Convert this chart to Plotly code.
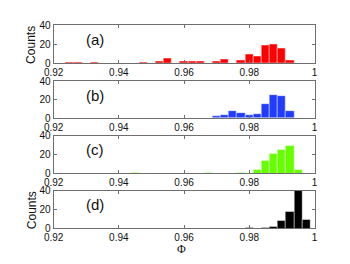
import plotly.graph_objects as go

# bin centres (Phi) and counts per panel
phi_a = [0.925, 0.9275, 0.9325, 0.9475, 0.9525, 0.955, 0.96, 0.9625, 0.965, 0.97,
         0.9725, 0.9775, 0.98, 0.9825, 0.985, 0.9875, 0.99, 0.9925]
cnt_a = [1, 1, 1, 1, 2, 5, 2, 2, 2, 2, 4, 3, 9, 7, 19, 20, 16, 3]

phi_b = [0.97, 0.9725, 0.975, 0.9775, 0.98, 0.9825, 0.985, 0.9875, 0.99, 0.9925]
cnt_b = [2, 3, 8, 6, 4, 5, 15, 25, 24, 8]

phi_c = [0.945, 0.9675, 0.9775, 0.9825, 0.985, 0.9875, 0.99, 0.9925, 0.995]
cnt_c = [1, 1, 1, 4, 13, 21, 25, 29, 4]

phi_d = [0.98, 0.985, 0.9875, 0.99, 0.9925, 0.995, 0.9975]
cnt_d = [1, 1, 2, 8, 18, 40, 9]

panel_labels = ["(a)", "(b)", "(c)", "(d)"]
colors = ["#ff0000", "#1f3cff", "#66ff00", "#000000"]
x_ticks = [0.92, 0.94, 0.96, 0.98, 1.0]
x_ticktext = ["0.92", "0.94", "0.96", "0.98", "1"]
y_ticks = [0, 20, 40]

W, H = 350, 264
OFF = 8  # page body margin offset
px_left, px_right = 45 - OFF, 316 - OFF
px_rows = [(20 - OFF, 59.7 - OFF), (78.3 - OFF, 117.3 - OFF),
           (135.7 - OFF, 175 - OFF), (193.3 - OFF, 232.7 - OFF)]

series = [(phi_a, cnt_a), (phi_b, cnt_b), (phi_c, cnt_c), (phi_d, cnt_d)]

fig = go.Figure()
axcol = "#6e6e6e"
tickfont = dict(family="Liberation Sans, Arial, sans-serif", size=10, color="#111")

for i, ((xs, ys), col) in enumerate(zip(series, colors)):
    n = "" if i == 0 else str(i + 1)
    fig.add_trace(go.Bar(
        x=xs, y=ys, width=0.0025,
        marker=dict(color=col, line=dict(color="rgba(255,255,255,0.55)", width=0.8)),
        xaxis="x" + n, yaxis="y" + n, showlegend=False,
    ))
    top, bot = px_rows[i]
    xd = [px_left / W, px_right / W]
    yd = [1 - bot / H, 1 - top / H]
    fig.update_layout(**{
        "xaxis" + n: dict(domain=xd, range=[0.92, 1.0], anchor="y" + n,
                          tickvals=x_ticks, ticktext=x_ticktext,
                          ticks="inside", ticklen=3, tickcolor=axcol,
                          showline=True, linecolor=axcol, linewidth=1, mirror="ticks",
                          showgrid=False, zeroline=False, tickfont=tickfont),
        "yaxis" + n: dict(domain=yd, range=[0, 40], anchor="x" + n,
                          tickvals=y_ticks, ticks="inside", ticklen=3, tickcolor=axcol,
                          showline=True, linecolor=axcol, linewidth=1, mirror="ticks",
                          showgrid=False, zeroline=False, tickfont=tickfont),
    })
    fig.add_annotation(x=0.9327, y=25, xref="x" + n, yref="y" + n,
                       xanchor="center", yanchor="middle",
                       text=panel_labels[i], showarrow=False,
                       font=dict(family="Liberation Sans, Arial, sans-serif", size=15, color="#111"))
    if i in (0, 3):
        fig.add_annotation(x=(22 - OFF) / W, y=1 - (top + bot) / 2 / H, xref="paper", yref="paper",
                           xanchor="center", yanchor="middle",
                           text="Counts", textangle=-90, showarrow=False,
                           font=dict(family="Liberation Sans, Arial, sans-serif", size=12, color="#111"))

fig.add_annotation(x=(178 - OFF) / W, y=1 - (254 - OFF) / H, xref="paper", yref="paper",
                   xanchor="center", yanchor="middle",
                   text="Φ", showarrow=False,
                   font=dict(family="Liberation Serif, Times New Roman, serif", size=12, color="#111"))

fig.update_layout(width=W, height=H, margin=dict(l=0, r=0, t=0, b=0),
                  paper_bgcolor="white", plot_bgcolor="white", bargap=0)

fig.write_html("out.html")
